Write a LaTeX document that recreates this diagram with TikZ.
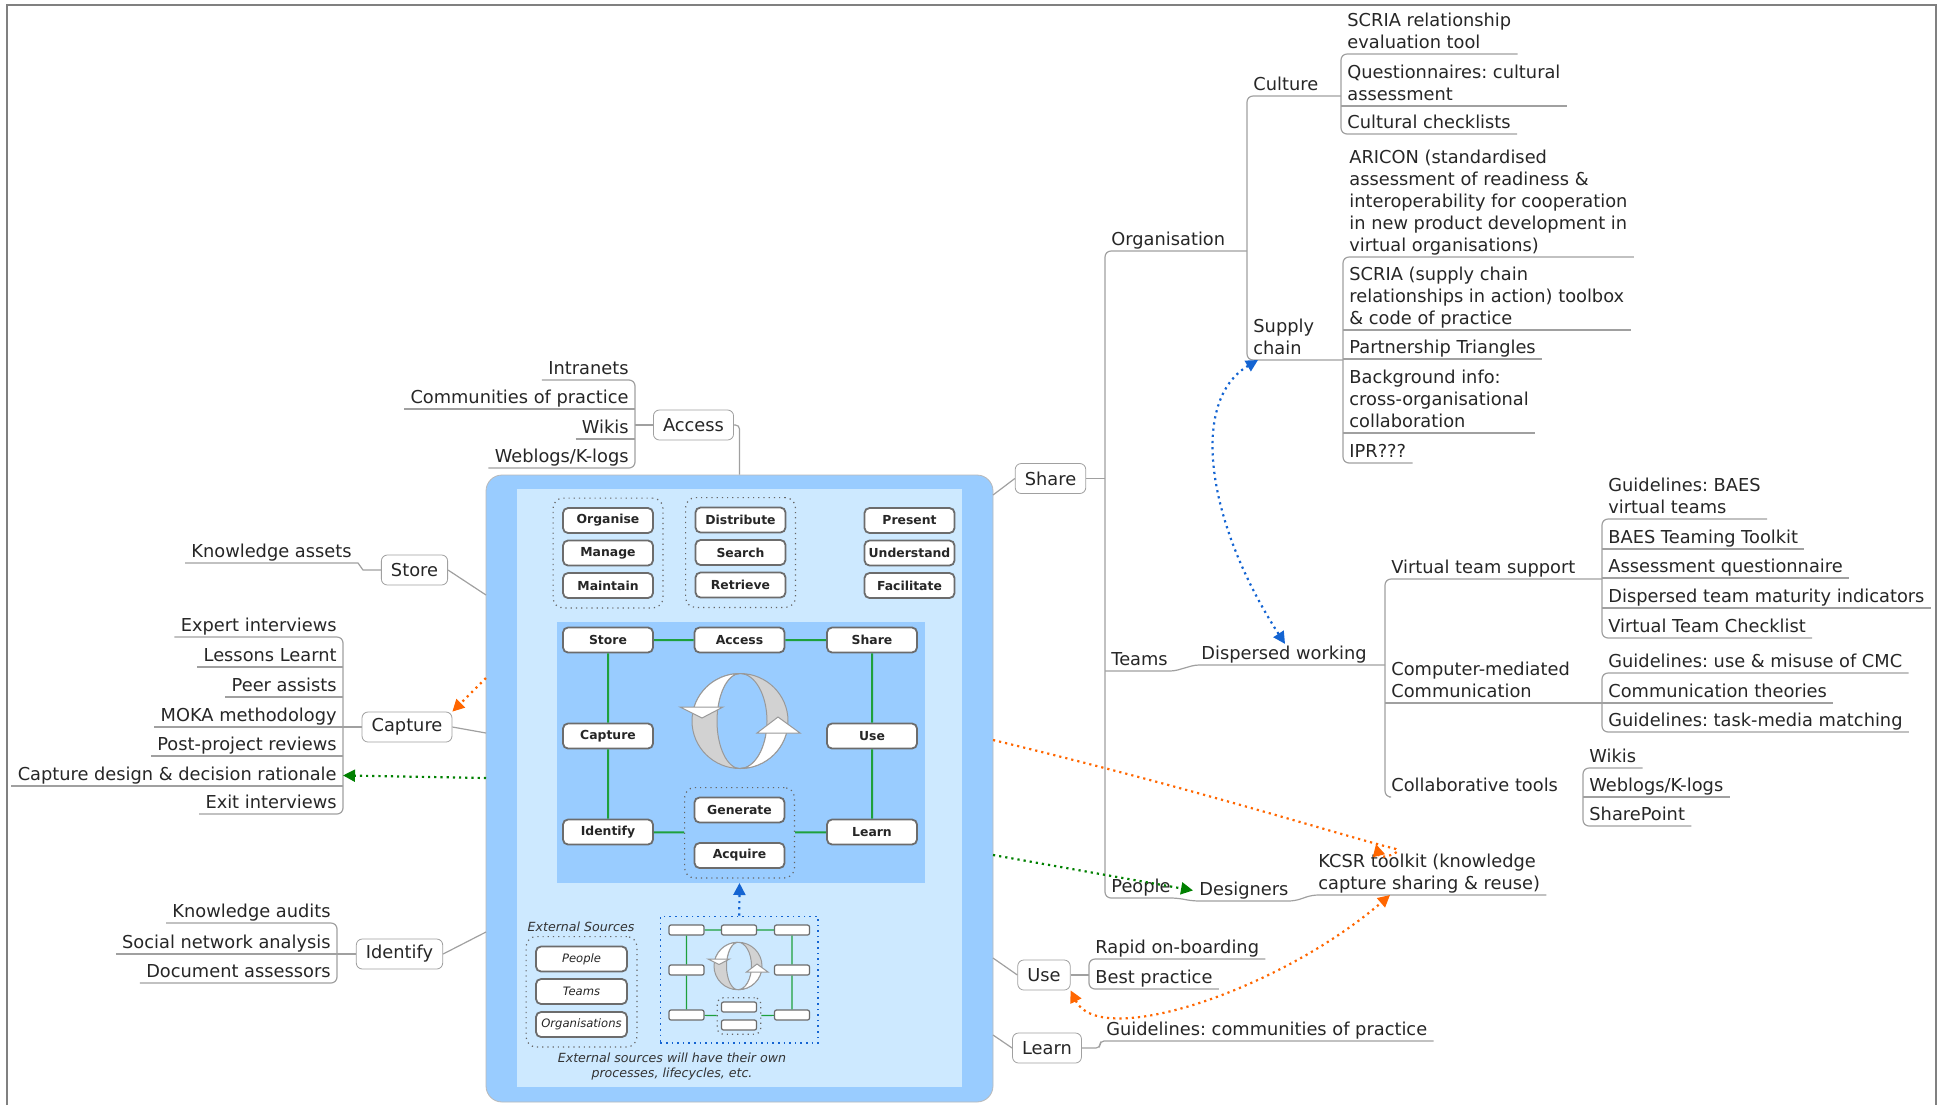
\documentclass[tikz,border=0pt]{standalone}
\usepackage{fontspec}
\setmainfont{DejaVu Sans}
\usetikzlibrary{arrows.meta,fit}
\frenchspacing

\definecolor{kmblue}{RGB}{153,204,255}
\definecolor{kmlight}{RGB}{205,233,255}
\definecolor{cycgreen}{RGB}{30,160,60}
\definecolor{linkgray}{RGB}{160,160,160}
\definecolor{arrorange}{RGB}{255,102,0}
\definecolor{arrgreen}{RGB}{0,128,0}
\definecolor{arrblue}{RGB}{20,100,210}

\newcommand\mmfont{\fontsize{8.9}{10.9}\selectfont}
\newcommand\boxfont{\bfseries\fontsize{6.2}{7.3}\selectfont}
\newcommand\extfont{\itshape\fontsize{6.3}{7.5}\selectfont}

\tikzset{
  link/.style={draw=linkgray, line width=0.6pt},
  topic/.style={draw=linkgray, fill=white, rounded corners=3pt, minimum height=15pt,
    inner xsep=4.8pt, inner ysep=0pt, font=\mmfont, text=black!85},
  rleaf/.style={anchor=south west, inner xsep=3pt, inner ysep=0.6pt, text depth=2.2pt,
    align=left, font=\mmfont, text=black!85},
  lleaf/.style={rleaf, anchor=south east, align=right},
  stepbox/.style={draw=gray!85!black, line width=0.9pt, fill=white, rounded corners=2.5pt,
    minimum width=45pt, minimum height=12.5pt, inner sep=0pt, font=\boxfont, text=black!85},
  extbox/.style={stepbox, minimum width=45.5pt, font=\itshape\fontsize{5.8}{7}\selectfont},
  grp/.style={draw=gray!80!black, dotted, line width=0.6pt, rounded corners=5pt, inner sep=4.5pt},
  cyc/.style={draw=cycgreen, line width=1pt},
  minibox/.style={draw=gray!85!black, line width=0.6pt, fill=white, rounded corners=1pt,
    minimum width=17.5pt, minimum height=5pt, inner sep=0pt},
  hint/.style={dotted, line width=1.1pt, -{Triangle[length=6pt,width=6pt]}},
  hintboth/.style={hint, {Triangle[length=6pt,width=6pt]}-{Triangle[length=6pt,width=6pt]}},
  band/.style={draw=gray!80, line width=0.5pt},
  cycleicon/.pic={
    \path[band, fill=gray!35] (0,-47.5) arc[start angle=270, end angle=90, x radius=48, y radius=47.5]
      arc[start angle=90, end angle=270, x radius=23, y radius=47.5] -- cycle;
    \path[band, fill=gray!35] (0,-47.5) arc[start angle=-90, end angle=90, x radius=48, y radius=47.5]
      arc[start angle=90, end angle=-90, x radius=27, y radius=47.5] -- cycle;
    \begin{scope}
      \clip (-70,-60) rectangle (0,-13);
      \path[band, fill=white] (0,-47.5) arc[start angle=270, end angle=90, x radius=48, y radius=47.5]
        arc[start angle=90, end angle=270, x radius=23, y radius=47.5] -- cycle;
    \end{scope}
    \begin{scope}
      \clip (0,12) rectangle (70,60);
      \path[band, fill=white] (0,-47.5) arc[start angle=-90, end angle=90, x radius=48, y radius=47.5]
        arc[start angle=90, end angle=-90, x radius=27, y radius=47.5] -- cycle;
    \end{scope}
    \path[band, fill=white] (-60,-14) -- (-17,-14) -- (-38,-3) -- cycle;
    \path[band, fill=white] (17,12) -- (60,12) -- (38,-4) -- cycle;
  }
}

\begin{document}
\begin{tikzpicture}[x=0.5pt, y=-0.5pt]
\useasboundingbox (0,0) rectangle (1944,1105);
\draw[gray, line width=0.6pt] (7,1105) -- (7,5) -- (1936,5) -- (1936,1105);

% central lifecycle panel
\node[draw=gray!55, fill=kmblue, rounded corners=8pt, minimum width=253.5pt,
  minimum height=313.5pt, inner sep=0pt] (kmbox) at (739.5,788.5) {};
\fill[kmlight] (517,489) rectangle (962,1087);
\fill[kmblue] (557,622) rectangle (925,883);

\node[stepbox] (iorg) at (608,520.5) {Organise};
\node[stepbox] (iman) at (608,553) {Manage};
\node[stepbox] (imnt) at (608,585.5) {Maintain};
\node[stepbox] (idis) at (740.5,520) {Distribute};
\node[stepbox] (isea) at (740.5,552.5) {Search};
\node[stepbox] (iret) at (740.5,585) {Retrieve};
\node[stepbox] (ipre) at (909.5,520.5) {Present};
\node[stepbox] (iund) at (909.5,553) {Understand};
\node[stepbox] (ifac) at (909.5,585.5) {Facilitate};
\node[grp, fit=(iorg)(imnt)] (g1) {};
\node[grp, fit=(idis)(iret)] (g2) {};

\node[stepbox] (istore) at (608,640) {Store};
\node[stepbox] (iaccess) at (739.5,640) {Access};
\node[stepbox] (ishare) at (872,640) {Share};
\node[stepbox] (icapture) at (608,736) {Capture};
\node[stepbox] (iuse) at (872,736) {Use};
\node[stepbox] (iidentify) at (608,832) {Identify};
\node[stepbox] (ilearn) at (872,832) {Learn};
\node[stepbox] (igen) at (739.5,810) {Generate};
\node[stepbox] (iacq) at (739.5,855.5) {Acquire};
\node[grp, fit=(igen)(iacq)] (g3) {};
\draw[cyc] (istore) -- (iaccess) -- (ishare) -- (iuse) -- (ilearn) -- (g3) -- (iidentify)
  -- (icapture) -- (istore);
\pic at (740,721) {cycleicon};

% external sources
\node[font=\extfont, text=black!80] (extlbl) at (581,927) {External Sources};
\node[extbox] (xpeople) at (581.5,959) {People};
\node[extbox] (xteams) at (581.5,991.5) {Teams};
\node[extbox] (xorgs) at (581.5,1024.5) {Organisations};
\node[grp, fit=(xpeople)(xorgs)] (g4) {};

\node[minibox] (mtl) at (686.5,930) {};
\node[minibox] (mtm) at (739,930) {};
\node[minibox] (mtr) at (792,930) {};
\node[minibox] (mml) at (686.5,970) {};
\node[minibox] (mmr) at (792,970) {};
\node[minibox] (mbl) at (686.5,1015) {};
\node[minibox] (mbr) at (792,1015) {};
\node[minibox] (mga) at (739,1007) {};
\node[minibox] (mgb) at (739,1025) {};
\node[grp, inner sep=1.8pt, rounded corners=3pt, fit=(mga)(mgb)] (g5) {};
\draw[cycgreen, line width=0.6pt] (mtl) -- (mtm) -- (mtr) -- (mmr) -- (mbr) -- (g5) -- (mbl)
  -- (mml) -- (mtl);
\pic[scale=0.5] at (738,966) {cycleicon};
\node[draw=arrblue, dotted, line width=0.8pt, inner sep=4pt, fit=(mtl)(mtr)(mbl)(g5)] (mini) {};
\coordinate (cycbot) at (739.5,883);
\draw[hint, color=arrblue] (mini.north) -- (cycbot);
\node[font=\extfont, align=center, text=black!80] (capt) at (672,1067)
  {External sources will have their own\\processes, lifecycles, etc.};

% attach points on the panel
\coordinate (kmW1) at (486,595);
\coordinate (kmW2) at (486,678);
\coordinate (kmW3) at (486,733);
\coordinate (kmW4) at (486,778);
\coordinate (kmW5) at (486,932);
\coordinate (kmE1) at (993,495);
\coordinate (kmE2) at (993,740);
\coordinate (kmE3) at (993,855);
\coordinate (kmE4) at (993,958);
\coordinate (kmE5) at (993,1035);

% main topics
\node[topic] (access) at (693.5,425) {Access};
\node[topic] (store) at (414.5,570) {Store};
\node[topic] (capture) at (407,727) {Capture};
\node[topic] (identify) at (399.5,954) {Identify};
\node[topic] (share) at (1050.5,478.5) {Share};
\node[topic] (use) at (1044,975) {Use};
\node[topic] (learn) at (1047,1048) {Learn};

\draw[link, rounded corners=2pt] (access.east) -| (kmbox.north);
\draw[link] (store.east) -- (kmW1);
\draw[link] (capture.east) -- (kmW3);
\draw[link] (identify.east) -- (kmW5);
\draw[link] (share.west) -- (kmE1);
\draw[link] (use.west) -- (kmE4);
\draw[link] (learn.west) -- (kmE5);

% left branches
\node[lleaf] (intra) at (635,380) {Intranets};
\node[lleaf] (cop) at (635,409) {Communities of practice};
\node[lleaf] (lwikis) at (635,439) {Wikis};
\node[lleaf] (lweb) at (635,468) {Weblogs/K-logs};
\draw[link, rounded corners=3pt] (intra.south west) -- (intra.south east) -- (lweb.south east)
  -- (lweb.south west);
\draw[link] (cop.south west) -- (cop.south east);
\draw[link] (lwikis.south west) -- (lwikis.south east);
\draw[link] (access.west) -- (access.west -| intra.south east);

\node[lleaf] (kassets) at (358,563) {Knowledge assets};
\draw[link] (kassets.south west) -- (kassets.south east) -- ++(5,7) -- (store.west);

\node[lleaf] (expert) at (343,637) {Expert interviews};
\node[lleaf] (lessons) at (343,667) {Lessons Learnt};
\node[lleaf] (peer) at (343,697) {Peer assists};
\node[lleaf] (moka) at (343,727) {MOKA methodology};
\node[lleaf] (post) at (343,756) {Post-project reviews};
\node[lleaf] (cdr) at (343,786) {Capture design \& decision rationale};
\node[lleaf] (exit) at (343,814) {Exit interviews};
\draw[link, rounded corners=3pt] (expert.south west) -- (expert.south east) -- (exit.south east)
  -- (exit.south west);
\foreach \n in {lessons,peer,moka,post,cdr}
  \draw[link] (\n.south west) -- (\n.south east);
\draw[link] (capture.west) -- (capture.west -| moka.south east);

\node[lleaf] (kaud) at (337,923) {Knowledge audits};
\node[lleaf] (sna) at (337,954) {Social network analysis};
\node[lleaf] (docass) at (337,983) {Document assessors};
\draw[link, rounded corners=3pt] (kaud.south west) -- (kaud.south east) -- (docass.south east)
  -- (docass.south west);
\draw[link] (sna.south west) -- (sna.south east);
\draw[link] (identify.west) -- (identify.west -| sna.south east);

% right branches
\node[rleaf] (organisation) at (1105,251) {Organisation};
\node[rleaf] (culture) at (1247,96) {Culture};
\node[rleaf] (supply) at (1247,360) {Supply\\chain};
\node[rleaf] (scria1) at (1341,54) {SCRIA relationship\\evaluation tool};
\node[rleaf] (quest) at (1341,106) {Questionnaires: cultural\\assessment};
\node[rleaf] (cultcheck) at (1341,134) {Cultural checklists};
\node[rleaf] (aricon) at (1343,257) {ARICON (standardised\\assessment of readiness \&\\interoperability for cooperation\\in new product development in\\virtual organisations)};
\node[rleaf] (scria2) at (1343,330) {SCRIA (supply chain\\relationships in action) toolbox\\\& code of practice};
\node[rleaf] (partner) at (1343,359) {Partnership Triangles};
\node[rleaf] (backg) at (1343,433) {Background info:\\cross-organisational\\collaboration};
\node[rleaf] (ipr) at (1343,463) {IPR???};

\node[rleaf] (teams) at (1105,671) {Teams};
\node[rleaf] (disp) at (1195,665) {Dispersed working};
\node[rleaf] (vts) at (1385,579) {Virtual team support};
\node[rleaf] (cmc) at (1385,703) {Computer-mediated\\Communication};
\node[rleaf] (collab) at (1385,797) {Collaborative tools};
\node[rleaf] (bae1) at (1602,519) {Guidelines: BAES\\virtual teams};
\node[rleaf] (bae2) at (1602,549) {BAES Teaming Toolkit};
\node[rleaf] (assq) at (1602,578) {Assessment questionnaire};
\node[rleaf] (dtmi) at (1602,608) {Dispersed team maturity indicators};
\node[rleaf] (vtc) at (1602,638) {Virtual Team Checklist};
\node[rleaf] (gucmc) at (1602,673) {Guidelines: use \& misuse of CMC};
\node[rleaf] (commth) at (1602,703) {Communication theories};
\node[rleaf] (gutask) at (1602,732) {Guidelines: task-media matching};
\node[rleaf] (cwikis) at (1583,768) {Wikis};
\node[rleaf] (cweb) at (1583,797) {Weblogs/K-logs};
\node[rleaf] (csp) at (1583,826) {SharePoint};

\node[rleaf] (people) at (1105,898) {People};
\node[rleaf] (designers) at (1193,901) {Designers};
\node[rleaf] (kcsr) at (1312,895) {KCSR toolkit (knowledge\\capture sharing \& reuse)};

\node[rleaf] (rapid) at (1089,959) {Rapid on-boarding};
\node[rleaf] (best) at (1089,989) {Best practice};
\node[rleaf] (gcop) at (1100,1041) {Guidelines: communities of practice};

\draw[link] (share.east) -- (share.east -| organisation.south west);
\draw[link, rounded corners=3pt] (organisation.south west -| culture.south west)
  -- (organisation.south west) -- (people.south west) -- (people.south east)
  -- (designers.south west) -- (designers.south east) -- (kcsr.south west) -- (kcsr.south east);
\draw[link, rounded corners=3pt] (culture.south west -| scria1.south west) -- (culture.south west)
  -- (supply.south west) -- (supply.south west -| partner.south west);
\draw[link, rounded corners=3pt] (scria1.south east) -- (scria1.south west) -- (cultcheck.south west)
  -- (cultcheck.south east);
\draw[link] (quest.south west) -- (quest.south east);
\draw[link, rounded corners=3pt] (aricon.south east) -- (aricon.south west) -- (ipr.south west)
  -- (ipr.south east);
\foreach \n in {scria2,partner,backg}
  \draw[link] (\n.south west) -- (\n.south east);

\draw[link, rounded corners=2pt] (teams.south west) -- (teams.south east) -- (disp.south west)
  -- (disp.south west -| vts.south west);
\draw[link, rounded corners=3pt] (vts.south west -| bae1.south west) -- (vts.south west)
  -- (collab.south west) -- ([xshift=2pt]collab.south west);
\draw[link] (cmc.south west) -- (cmc.south west -| gucmc.south west);
\draw[link, rounded corners=3pt] (bae1.south east) -- (bae1.south west) -- (vtc.south west)
  -- (vtc.south east);
\foreach \n in {bae2,assq,dtmi}
  \draw[link] (\n.south west) -- (\n.south east);
\draw[link, rounded corners=3pt] (gucmc.south east) -- (gucmc.south west) -- (gutask.south west)
  -- (gutask.south east);
\draw[link] (commth.south west) -- (commth.south east);
\draw[link, rounded corners=3pt] (cwikis.south east) -- (cwikis.south west) -- (csp.south west)
  -- (csp.south east);
\draw[link] (cweb.south west) -- (cweb.south east);

\draw[link] (use.east) -- (use.east -| rapid.south west);
\draw[link, rounded corners=3pt] (rapid.south east) -- (rapid.south west) -- (best.south west)
  -- (best.south east);
\draw[link, rounded corners=2pt] (learn.east) -- (learn.east -| gcop.south west) -- (gcop.south west)
  -- (gcop.south east);

% cross links
\draw[hint, color=arrorange] (kmW2) -- (capture.north east);
\draw[hint, color=arrgreen] (kmW4) -- (cdr.east);
\draw[hint, color=arrgreen] (kmE3) -- (designers.west);
\draw[hint, color=arrorange] (kmE2) .. controls (1200,790) and (1340,835) .. (1396,849)
  .. controls (1404,852) and (1380,860) .. ([xshift=32pt,yshift=4pt]kcsr.north west);
\draw[hintboth, color=arrorange] (use.south east) .. controls (1100,1050) and (1280,990) .. ([xshift=39pt]kcsr.south west);
\draw[hintboth, color=arrblue] ([xshift=5.5pt]supply.south west) .. controls (1190,400) and (1205,520) .. ([xshift=45pt]disp.north west);
\end{tikzpicture}
\end{document}
